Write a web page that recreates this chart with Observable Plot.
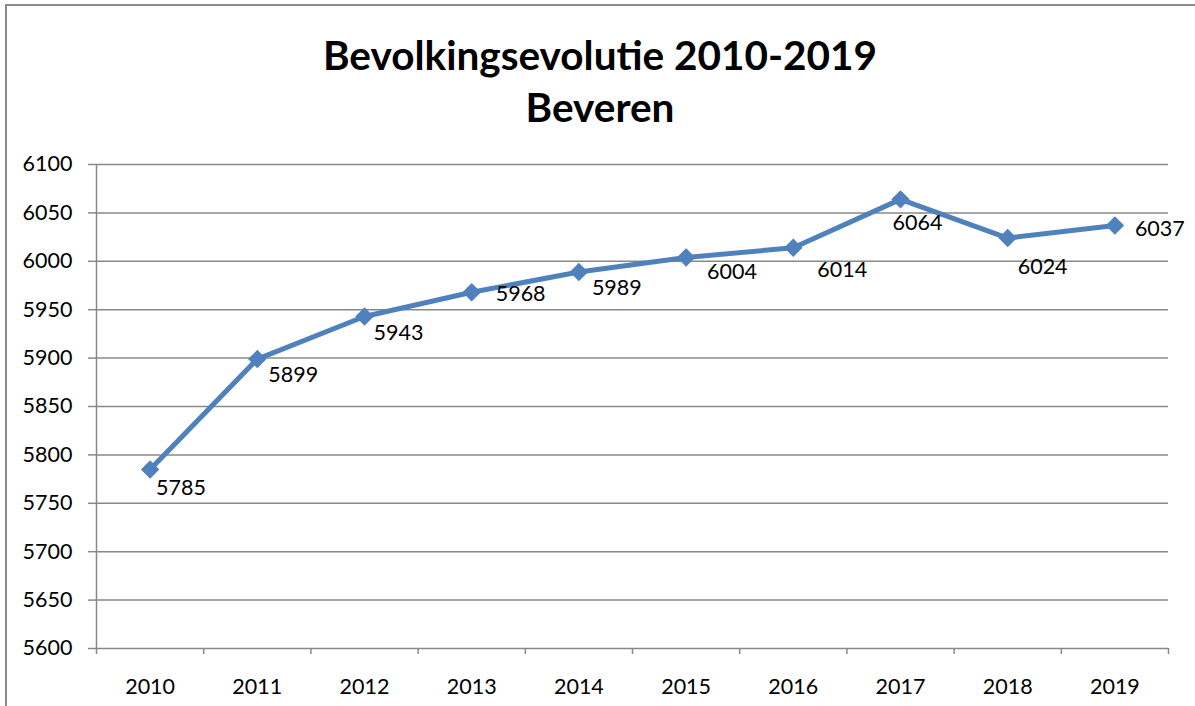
<!DOCTYPE html>
<html>
<head>
<meta charset="utf-8">
<script src="https://cdn.jsdelivr.net/npm/d3@7"></script>
<script src="https://cdn.jsdelivr.net/npm/@observablehq/plot@0.6"></script>
<style>
  html, body { margin: 0; padding: 0; background: #fff; overflow: hidden; }
  #frame { position: absolute; left: 5px; top: 4px; width: 1400px; height: 900px; border: 2px solid #8a8a8a; box-sizing: border-box; }
  #title { position: absolute; left: 0; top: 29px; width: 1200px; text-align: center; font-family: Lato, "Open Sans", sans-serif; font-weight: bold; font-size: 40.5px; line-height: 52px; color: #000; }
  #chart { position: absolute; left: 0; top: 140px; }
</style>
</head>
<body>
<div id="frame"></div>
<div id="title">Bevolkingsevolutie 2010-2019<br>Beveren</div>
<div id="chart"></div>
<script>
const years = [2010, 2011, 2012, 2013, 2014, 2015, 2016, 2017, 2018, 2019];
const population = [5785, 5899, 5943, 5968, 5989, 6004, 6014, 6064, 6024, 6037];
const yTicks = [5600, 5650, 5700, 5750, 5800, 5850, 5900, 5950, 6000, 6050, 6100];
// label offsets (pixels) relative to each point, as placed in the reference
const labelDx = [6, 11, 9, 24, 13, 21, 24, -8, 10, 20];
const labelDy = [19, 16, 17, 2, 16, 15, 22, 24, 29, 4];

const data = years.map((year, i) => ({year, value: population[i]}));
const boundaries = [years[0] - 0.5, ...years.map(y => y + 0.5)];

const gray = "#888888";
const blue = "#4f81bd";

const chart = Plot.plot({
  width: 1195,
  height: 566,
  marginLeft: 96,
  marginRight: 27,
  marginTop: 24,
  marginBottom: 58,
  style: {fontFamily: "Lato, 'Open Sans', sans-serif", fontSize: "21.5px", color: "#000", background: "transparent", overflow: "visible"},
  x: {type: "linear", domain: [boundaries[0], boundaries[boundaries.length - 1]]},
  y: {domain: [yTicks[0], yTicks[yTicks.length - 1]]},
  marks: [
    Plot.gridY(yTicks, {stroke: gray, strokeOpacity: 1, strokeWidth: 1.5}),
    Plot.axisY(yTicks, {tickSize: 8, tickPadding: 16, stroke: gray, strokeWidth: 1.5, fill: "#000", label: null, tickFormat: d => String(d)}),
    Plot.ruleX([boundaries[0]], {y1: yTicks[0], y2: yTicks[yTicks.length - 1], stroke: gray, strokeWidth: 1.5}),
    Plot.axisX(boundaries, {tickSize: 6, tickFormat: () => "", stroke: gray, strokeWidth: 1.5, label: null}),
    Plot.axisX(years, {tickSize: 0, tickPadding: 30, tickFormat: d => String(d), fill: "#000", label: null}),
    Plot.line(data, {x: "year", y: "value", stroke: blue, strokeWidth: 5}),
    Plot.dot(data, {x: "year", y: "value", symbol: "diamond2", r: 8.3, fill: blue, stroke: "none"}),
    ...data.map((d, i) => Plot.text([d], {x: "year", y: "value", text: r => String(r.value), textAnchor: "start", dx: labelDx[i], dy: labelDy[i], fill: "#000"}))
  ]
});
document.getElementById("chart").appendChild(chart);
</script>
</body>
</html>
